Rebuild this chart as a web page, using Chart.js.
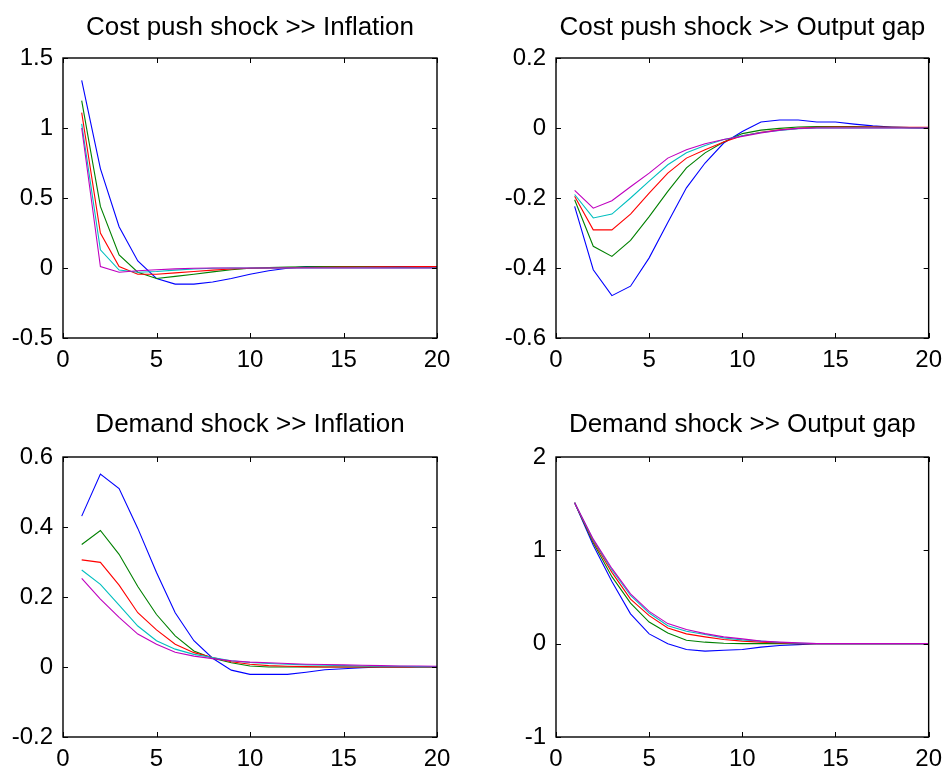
<!DOCTYPE html>
<html>
<head>
<meta charset="utf-8">
<script src="https://cdn.jsdelivr.net/npm/chart.js@4/dist/chart.umd.min.js"></script>
<style>
  html, body { margin: 0; padding: 0; background: #ffffff; }
  #wrap { position: relative; width: 950px; height: 771px; background: #ffffff; }
  canvas { position: absolute; }
</style>
</head>
<body>
<div id="wrap">
  <canvas id="c1" width="475" height="390" style="left:0px;top:0px"></canvas>
  <canvas id="c2" width="475" height="390" style="left:475px;top:0px"></canvas>
  <canvas id="c3" width="475" height="381" style="left:0px;top:390px"></canvas>
  <canvas id="c4" width="475" height="381" style="left:475px;top:390px"></canvas>
</div>
<script>
// ---------- data ----------
const periods = [1,2,3,4,5,6,7,8,9,10,11,12,13,14,15,16,17,18,19,20];
const seriesColors = ['#0000ff', '#008000', '#ff0000', '#00bfbf', '#bf00bf'];

const titles = [
  'Cost push shock >> Inflation',
  'Cost push shock >> Output gap',
  'Demand shock >> Inflation',
  'Demand shock >> Output gap'
];

const xTicks = [0, 5, 10, 15, 20];
const yTicks1 = [-0.5, 0, 0.5, 1, 1.5];
const yTicks2 = [-0.6, -0.4, -0.2, 0, 0.2];
const yTicks3 = [-0.2, 0, 0.2, 0.4, 0.6];
const yTicks4 = [-1, 0, 1, 2];

// Cost push shock >> Inflation
const cpInfBlue    = [1.34,0.71,0.295,0.05,-0.075,-0.115,-0.115,-0.1,-0.075,-0.045,-0.02,-0.002,0.01,0.01,0.01,0.01,0.01,0.01,0.01,0.01];
const cpInfGreen   = [1.195,0.44,0.093,-0.03,-0.075,-0.06,-0.045,-0.028,-0.012,-0.002,0.003,0.006,0.008,0.01,0.01,0.01,0.008,0.006,0.005,0.005];
const cpInfRed     = [1.11,0.25,0.01,-0.045,-0.045,-0.035,-0.025,-0.015,-0.007,-0.002,0,0.002,0.004,0.005,0.006,0.007,0.008,0.009,0.01,0.01];
const cpInfCyan    = [1.03,0.13,-0.015,-0.03,-0.025,-0.015,-0.007,-0.002,0,0,0,0,0,0,0,0,0,0,0,0];
const cpInfMagenta = [1.0,0.01,-0.03,-0.02,-0.012,-0.006,-0.002,0,0,0,0,0,0,0,0,0,0,0,0,0];

// Cost push shock >> Output gap
const cpGapBlue    = [-0.224,-0.405,-0.479,-0.452,-0.371,-0.27,-0.171,-0.1,-0.043,-0.01,0.017,0.023,0.023,0.017,0.017,0.011,0.006,0.003,0.001,0];
const cpGapGreen   = [-0.205,-0.338,-0.367,-0.321,-0.253,-0.181,-0.114,-0.071,-0.04,-0.016,-0.006,-0.001,0.003,0.004,0.004,0.004,0.003,0.002,0.001,0];
const cpGapRed     = [-0.195,-0.291,-0.291,-0.246,-0.186,-0.129,-0.086,-0.062,-0.04,-0.022,-0.012,-0.005,-0.001,0.002,0.003,0.003,0.003,0.002,0.002,0.002];
const cpGapCyan    = [-0.19,-0.257,-0.246,-0.2,-0.152,-0.105,-0.071,-0.05,-0.033,-0.022,-0.013,-0.007,-0.002,0,0,0,0,0,0,0];
const cpGapMagenta = [-0.178,-0.229,-0.208,-0.168,-0.129,-0.086,-0.062,-0.045,-0.033,-0.024,-0.014,-0.006,-0.001,0,0,0,0,0,0,0];

// Demand shock >> Inflation
const dmInfBlue    = [0.431,0.551,0.51,0.396,0.27,0.155,0.075,0.025,-0.009,-0.021,-0.021,-0.021,-0.015,-0.008,-0.005,-0.002,0,0,0,0];
const dmInfGreen   = [0.35,0.39,0.322,0.23,0.15,0.089,0.046,0.025,0.012,0.003,0,0,0,0,0,0,0,0,0,0];
const dmInfRed     = [0.306,0.299,0.234,0.155,0.106,0.065,0.041,0.027,0.015,0.008,0.004,0.002,0.001,0,0,0,0,0,0,0];
const dmInfCyan    = [0.277,0.236,0.177,0.117,0.075,0.051,0.036,0.027,0.018,0.013,0.01,0.008,0.006,0.005,0.004,0.003,0.002,0.002,0.001,0.001];
const dmInfMagenta = [0.253,0.194,0.142,0.094,0.065,0.042,0.031,0.024,0.018,0.014,0.012,0.01,0.008,0.007,0.006,0.005,0.004,0.003,0.003,0.002];

// Demand shock >> Output gap
const dmGapBlue    = [1.51,1.055,0.665,0.32,0.105,0,-0.062,-0.08,-0.07,-0.062,-0.037,-0.02,-0.01,0,0,0,0,0,0,0];
const dmGapGreen   = [1.51,1.08,0.718,0.434,0.232,0.115,0.037,0.016,0.005,0,0,0,0,0,0,0,0,0,0,0];
const dmGapRed     = [1.51,1.098,0.764,0.477,0.3,0.168,0.105,0.073,0.044,0.027,0.016,0.009,0,0,0,0,0,0,0,0];
const dmGapCyan    = [1.51,1.11,0.789,0.516,0.328,0.193,0.133,0.098,0.062,0.041,0.027,0.012,0.005,0,0,0,0,0,0,0];
const dmGapMagenta = [1.51,1.12,0.806,0.534,0.346,0.215,0.151,0.108,0.073,0.051,0.027,0.016,0.009,0,0,0,0,0,0,0];

// ---------- drawing ----------
const FONT = '"Liberation Sans", Arial, Helvetica, sans-serif';
const TICK_FONT_SIZE = 24;
const TITLE_FONT_SIZE = 26;
const Y_AXIS_W = 60;
const X_AXIS_H = 30;

function makeDatasets(arrs) {
  return arrs.map((a, i) => ({
    data: a.map((v, k) => ({ x: periods[k], y: v })),
    borderColor: seriesColors[i],
    borderWidth: 1.1,
    pointRadius: 0,
    tension: 0,
    fill: false,
    order: arrs.length - i
  }));
}

const boxPlugin = {
  id: 'matlabBox',
  afterDraw(chart, args, opts) {
    const ctx = chart.ctx;
    const a = chart.chartArea;
    const xs = chart.scales.x, ys = chart.scales.y;
    ctx.save();
    ctx.strokeStyle = '#000000';
    ctx.lineWidth = 1.4;
    ctx.strokeRect(a.left, a.top, a.right - a.left, a.bottom - a.top);
    ctx.lineWidth = 1;
    const tl = 5;
    ctx.beginPath();
    xTicks.forEach(v => {
      const px = Math.round(xs.getPixelForValue(v)) + 0.5;
      ctx.moveTo(px, a.bottom); ctx.lineTo(px, a.bottom - tl);
      ctx.moveTo(px, a.top); ctx.lineTo(px, a.top + tl);
    });
    opts.yTicks.forEach(v => {
      const py = Math.round(ys.getPixelForValue(v)) + 0.5;
      ctx.moveTo(a.left, py); ctx.lineTo(a.left + tl, py);
      ctx.moveTo(a.right, py); ctx.lineTo(a.right - tl, py);
    });
    ctx.stroke();
    // title
    ctx.fillStyle = '#000000';
    ctx.font = TITLE_FONT_SIZE + 'px ' + FONT;
    ctx.textAlign = 'center';
    ctx.textBaseline = 'middle';
    ctx.fillText(opts.title, (a.left + a.right) / 2, a.top - opts.titleGap);
    ctx.restore();
  }
};

function fmt(v) {
  const r = Math.round(v * 10) / 10;
  return (Math.abs(r) < 1e-9) ? '0' : String(r);
}

function makeChart(id, arrs, yTicks, title, pad, titleGap) {
  const yMin = yTicks[0], yMax = yTicks[yTicks.length - 1];
  const step = yTicks[1] - yTicks[0];
  return new Chart(document.getElementById(id), {
    type: 'line',
    data: { datasets: makeDatasets(arrs) },
    plugins: [boxPlugin],
    options: {
      responsive: false,
      animation: false,
      devicePixelRatio: 1,
      layout: { padding: pad },
      plugins: {
        legend: { display: false },
        tooltip: { enabled: false },
        title: { display: false },
        matlabBox: { yTicks: yTicks, title: title, titleGap: titleGap }
      },
      scales: {
        x: {
          type: 'linear',
          min: 0, max: 20,
          grid: { display: false, drawTicks: false },
          border: { display: false },
          afterFit: s => { s.height = X_AXIS_H; },
          afterBuildTicks: s => { s.ticks = xTicks.map(v => ({ value: v })); },
          ticks: {
            stepSize: 5, maxRotation: 0, autoSkip: false, padding: 8,
            color: '#000000',
            font: { family: FONT, size: TICK_FONT_SIZE },
            callback: v => String(v)
          }
        },
        y: {
          type: 'linear',
          min: yMin, max: yMax,
          grid: { display: false, drawTicks: false },
          border: { display: false },
          afterFit: s => { s.width = Y_AXIS_W; },
          afterBuildTicks: s => { s.ticks = yTicks.map(v => ({ value: v })); },
          ticks: {
            stepSize: step, autoSkip: false, padding: 10,
            color: '#000000',
            font: { family: FONT, size: TICK_FONT_SIZE },
            callback: v => fmt(v)
          }
        }
      }
    }
  });
}

makeChart('c1', [cpInfBlue, cpInfGreen, cpInfRed, cpInfCyan, cpInfMagenta], yTicks1, titles[0],
  { left: 63 - Y_AXIS_W, top: 58, right: 38, bottom: 52 - X_AXIS_H }, 30);
makeChart('c2', [cpGapBlue, cpGapGreen, cpGapRed, cpGapCyan, cpGapMagenta], yTicks2, titles[1],
  { left: 81 - Y_AXIS_W, top: 58, right: 19, bottom: 52 - X_AXIS_H }, 30);
makeChart('c3', [dmInfBlue, dmInfGreen, dmInfRed, dmInfCyan, dmInfMagenta], yTicks3, titles[2],
  { left: 63 - Y_AXIS_W, top: 67, right: 38, bottom: 34 - X_AXIS_H }, 32);
makeChart('c4', [dmGapBlue, dmGapGreen, dmGapRed, dmGapCyan, dmGapMagenta], yTicks4, titles[3],
  { left: 81 - Y_AXIS_W, top: 67, right: 19, bottom: 34 - X_AXIS_H }, 32);
</script>
</body>
</html>
